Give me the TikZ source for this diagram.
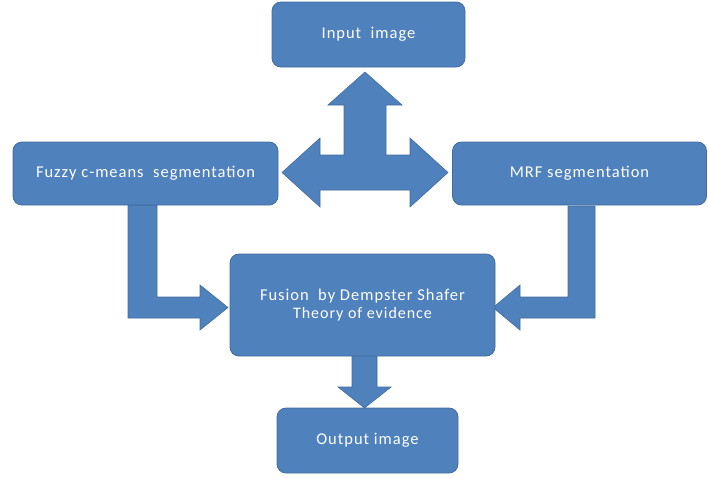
\documentclass[tikz,border=0pt]{standalone}
\usepackage{fontspec}
\usepackage{tikz}
\setmainfont{Carlito}
\newfontfamily\boxfont{Carlito}[LetterSpace=6]
\definecolor{BoxBlue}{HTML}{4F81BD}
\definecolor{EdgeBlue}{HTML}{416C9E}
\tikzset{
  stagebox/.style={draw=EdgeBlue,fill=BoxBlue,line width=0.8pt,rounded corners=9pt,align=center,text=white,font=\boxfont\fontsize{16.5}{20}\selectfont,inner sep=0pt},
  blockarrow/.style={draw=EdgeBlue,fill=BoxBlue,line width=0.6pt,line join=miter}
}
\begin{document}
\begin{tikzpicture}[x=1pt,y=-1pt]
  \useasboundingbox (0,0) rectangle (708,477);

  % block arrows
  \draw[blockarrow] (365,72) -- (402,105) -- (386,105) -- (386,155) -- (410,155) -- (410,138)
    -- (448,172.5) -- (410,207) -- (410,190) -- (320,190) -- (320,207) -- (282,172.5)
    -- (320,138) -- (320,155) -- (344,155) -- (344,105) -- (328,105) -- cycle;
  \draw[blockarrow] (128,205) -- (157,205) -- (157,297) -- (200,297) -- (200,285)
    -- (228,307.5) -- (200,330) -- (200,318) -- (128,318) -- cycle;
  \draw[blockarrow] (568,206) -- (595,206) -- (595,318) -- (520,318) -- (520,330)
    -- (493,307.5) -- (520,285) -- (520,297) -- (568,297) -- cycle;
  \draw[blockarrow] (352,355) -- (377,355) -- (377,387) -- (391,387) -- (364.5,408)
    -- (338,387) -- (352,387) -- cycle;

  % stages
  \node[stagebox,minimum width=193pt,minimum height=65pt] (input) at (368.5,34.5) {Input\ \ image};
  \node[stagebox,minimum width=265pt,minimum height=63pt] (fuzzy) at (145.5,173.5) {Fuzzy c-means\ \ segmentation};
  \node[stagebox,minimum width=254pt,minimum height=63pt] (mrf) at (579.5,173.5) {MRF segmentation};
  \node[stagebox,minimum width=265pt,minimum height=102pt] (fusion) at (362.5,305) {Fusion\ \ by Dempster Shafer\\[-2pt]{\fontsize{16}{19}\selectfont Theory of evidence}};
  \node[stagebox,minimum width=181pt,minimum height=65pt] (output) at (367.5,440.5) {Output image};
\end{tikzpicture}
\end{document}
